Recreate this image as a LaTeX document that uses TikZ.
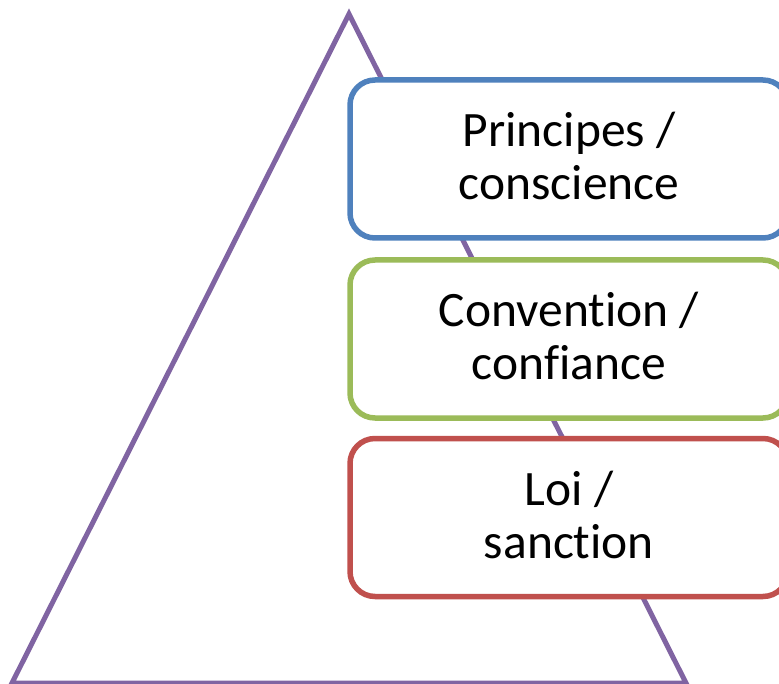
\documentclass[tikz,border=0pt]{standalone}
\usepackage{fontspec}
\setmainfont{Carlito}[Ligatures={NoCommon}]
\definecolor{tripurple}{HTML}{8064A2}
\definecolor{boxblue}{HTML}{4F81BD}
\definecolor{boxgreen}{HTML}{9BBB59}
\definecolor{boxred}{HTML}{C0504D}
\begin{document}
\begin{tikzpicture}[x=1pt,y=-1pt,
  box/.style={draw, line width=5.5pt, fill=white, rounded corners=25pt,
    minimum width=438pt, minimum height=158pt, inner sep=0pt},
  boxtext/.style={align=center, inner sep=0pt, yshift=3pt,
    font=\fontsize{49.5}{53}\selectfont},
  tri/.style={draw=tripurple, line width=5pt, line join=miter}]
\useasboundingbox (0,0) rectangle (779,684);
\coordinate (apex) at (349,14);
\coordinate (bl) at (12,683);
\coordinate (br) at (686,683);
\draw[tri] (apex) -- (br) -- (bl) -- cycle;
\node[box, draw=boxblue] (p) at (569,159) {};
\node[box, draw=boxgreen] (c) at (569,339) {};
\node[box, draw=boxred] (l) at (569,517.5) {};
\node[boxtext] (pt) at (p.center) {Principes /\\conscience};
\node[boxtext] (ct) at (c.center) {Convention /\\confiance};
\node[boxtext] (lt) at (l.center) {Loi /\\sanction};
\end{tikzpicture}
\end{document}
